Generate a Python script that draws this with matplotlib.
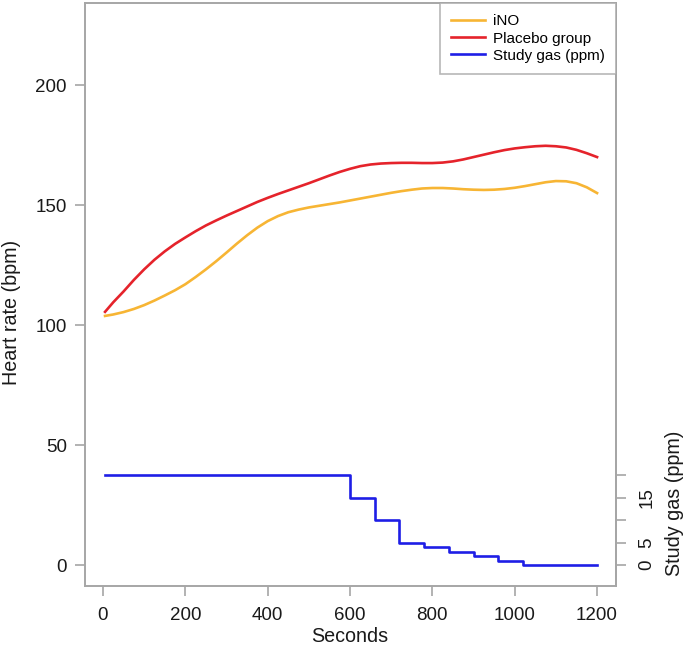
import matplotlib
matplotlib.use("Agg")
import matplotlib.pyplot as plt

plt.rcParams['font.family'] = ['Liberation Sans', 'DejaVu Sans']

# Data
seconds = [5, 25, 50, 75, 100, 125, 150, 175, 200, 225, 250, 275, 300, 325, 350, 375,
           400, 425, 450, 475, 500, 525, 550, 575, 600, 625, 650, 675, 700, 725, 750,
           775, 800, 825, 850, 875, 900, 925, 950, 975, 1000, 1025, 1050, 1075, 1100,
           1125, 1150, 1175, 1200]
ino_hr = [103.8, 104.4, 105.4, 106.7, 108.3, 110.2, 112.3, 114.5, 117, 120, 123.2, 126.6,
          130.2, 133.9, 137.4, 140.6, 143.3, 145.4, 147, 148.1, 149, 149.7, 150.4, 151.1,
          151.9, 152.7, 153.5, 154.3, 155.1, 155.8, 156.4, 156.9, 157.1, 157.1, 156.9,
          156.6, 156.4, 156.3, 156.4, 156.7, 157.2, 157.9, 158.7, 159.5, 160, 159.9,
          159.1, 157.4, 155]
placebo_hr = [105.5, 109.5, 114, 118.8, 123.2, 127.2, 130.7, 133.8, 136.5, 139.1, 141.5,
              143.6, 145.6, 147.5, 149.4, 151.3, 153, 154.6, 156.1, 157.6, 159.1, 160.7,
              162.3, 163.8, 165.1, 166.2, 166.9, 167.3, 167.5, 167.6, 167.6, 167.5, 167.5,
              167.7, 168.2, 169, 170, 171, 172, 172.9, 173.6, 174.1, 174.5, 174.7, 174.5,
              174, 173, 171.6, 170]
gas_t = [5, 600, 660, 720, 780, 840, 900, 960, 1020, 1200]
gas_ppm = [20, 15, 10, 5, 4, 3, 2, 1, 0, 0]

x_ticks = [0, 200, 400, 600, 800, 1000, 1200]
y_ticks = [0, 50, 100, 150, 200]
ppm_ticks = [0, 5, 10, 15, 20]
ppm_labels = ['0', '5', '', '15', '']

c_ino = '#F7B534'
c_pl = '#E5232B'
c_gas = '#1E1EE6'
gray = '#A6A6A6'

W, H = 685, 649
fig = plt.figure(figsize=(W / 100, H / 100), dpi=100)
L, R, T, B = 85, 616, 3, 586
ax = fig.add_axes([L / W, 1 - B / H, (R - L) / W, (B - T) / H])

ylo, yhi = -8.75, 234.2
k = 1.875  # bpm per ppm
ax.set_xlim(-43.7, 1246)
ax.set_ylim(ylo, yhi)

l1, = ax.plot(seconds, ino_hr, color=c_ino, lw=1.9, label='iNO', solid_joinstyle='round')
l2, = ax.plot(seconds, placebo_hr, color=c_pl, lw=1.9, label='Placebo group', solid_joinstyle='round')

ax2 = ax.twinx()
ax2.set_ylim(ylo / k, yhi / k)
l3, = ax2.step(gas_t, gas_ppm, where='post', color=c_gas, lw=1.9, label='Study gas (ppm)')

for a in (ax, ax2):
    for s in a.spines.values():
        s.set_color(gray)
        s.set_linewidth(1.4)
ax2.spines['left'].set_visible(False)
ax2.spines['top'].set_visible(False)
ax2.spines['bottom'].set_visible(False)

ax.set_xticks(x_ticks)
ax.set_yticks(y_ticks)
ax.tick_params(axis='both', colors=gray, labelcolor='#1a1a1a', labelsize=13.5,
               length=7, width=1.2)
ax.tick_params(axis='x', pad=8)
ax.tick_params(axis='y', pad=6)

ax2.set_yticks(ppm_ticks)
ax2.set_yticklabels(ppm_labels)
ax2.tick_params(axis='y', colors=gray, labelcolor='#1a1a1a', labelsize=13.5,
                length=7, width=1.2, labelrotation=90, pad=9)
for lab in ax2.get_yticklabels():
    lab.set_va('center')

fig.text(350 / W, 1 - 637 / H, 'Seconds', ha='center', va='center', fontsize=14.2, color='#1a1a1a')
fig.text(12 / W, 1 - 312 / H, 'Heart rate (bpm)', ha='center', va='center', rotation=90,
         fontsize=14.2, color='#1a1a1a')
fig.text(675 / W, 1 - 503 / H, 'Study gas (ppm)', ha='center', va='center', rotation=90,
         fontsize=14.2, color='#1a1a1a')

leg = ax2.legend(handles=[l1, l2, l3], loc='upper right', bbox_to_anchor=(1, 1),
                 borderaxespad=0, fancybox=False, frameon=True, fontsize=11,
                 handlelength=2.2, handletextpad=0.5, labelspacing=0.2,
                 borderpad=0.75)
leg.get_frame().set_edgecolor(gray)
leg.get_frame().set_linewidth(1.2)

fig.savefig('out.png', dpi=100)
